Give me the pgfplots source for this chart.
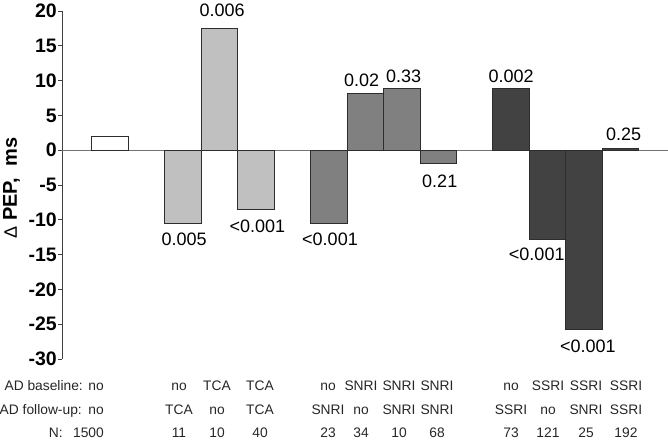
\documentclass[border=0pt]{standalone}
\usepackage{pgfplots}
\pgfplotsset{compat=1.18}
\usepackage{fontspec}
\setmainfont{Liberation Sans}
\definecolor{lgray}{RGB}{192,192,192}
\definecolor{mgray}{RGB}{128,128,128}
\definecolor{dgray}{RGB}{66,66,66}
\definecolor{edge}{RGB}{45,45,45}
\newcommand{\pv}{\fontsize{18}{20}\selectfont}
\newcommand{\bt}{\fontsize{13.8}{15}\selectfont}
\begin{document}
\begin{tikzpicture}[x=1pt,y=1pt]
\path[use as bounding box] (-62,-81) rectangle (606,359);
\begin{axis}[at={(0,0)}, anchor=south west, scale only axis,
  width=606pt, height=348pt,
  xmin=-1.32, xmax=15.3, ymin=-30, ymax=20,
  axis y line=left, axis x line=none,
  axis line style={-, draw=black!75, line width=0.8pt},
  xtick=\empty,
  ytick={-30,-25,...,20},
  yticklabels={-30,-25,-20,-15,-10,-5,0,5,10,15,20},
  tick align=outside, major tick length=4pt,
  ytick style={draw=black!75, line width=0.8pt},
  yticklabel style={font=\bfseries\fontsize{19.5}{21}\selectfont, inner sep=1pt},
  clip=false,
  every axis plot/.append style={ybar, bar width=36.46pt, bar shift=0pt, draw=edge, line width=1pt},
]
\draw[black!55, line width=0.9pt] (axis cs:-1.32,0) -- (axis cs:15.3,0);
\addplot[fill=white] coordinates {(0,1.9)};
\addplot[fill=lgray] coordinates {(2,-10.6) (3,17.5) (4,-8.5)};
\addplot[fill=mgray] coordinates {(6,-10.6) (7,8.2) (8,8.8) (9,-1.9)};
\addplot[fill=dgray] coordinates {(11,8.8) (12,-12.9) (13,-25.7) (14,0.2)};
\node[font=\pv] at (axis cs:2.03,-12.8) {0.005};
\node[font=\pv] at (axis cs:3.07,20.1) {0.006};
\node[font=\pv] at (axis cs:4.04,-10.9) {<0.001};
\node[font=\pv] at (axis cs:6.03,-12.8) {<0.001};
\node[font=\pv] at (axis cs:6.9,10.06) {0.02};
\node[font=\pv] at (axis cs:8.05,10.6) {0.33};
\node[font=\pv] at (axis cs:9.04,-4.45) {0.21};
\node[font=\pv] at (axis cs:11.0,10.6) {0.002};
\node[font=\pv] at (axis cs:11.7,-14.9) {<0.001};
\node[font=\pv] at (axis cs:13.1,-28.2) {<0.001};
\node[font=\pv] at (axis cs:14.08,2.3) {0.25};
\end{axis}
\node[rotate=90, font=\fontsize{20}{22}\selectfont, inner sep=0pt] at (-50.5,171) {{\fontsize{18}{20}\selectfont Δ} \textbf{PEP,\ \ ms}};
\begin{scope}[every node/.style={font=\bt, text=black!85, inner sep=0pt}]
\node[anchor=base east] at (21,-31) {AD baseline:};
\node[anchor=base east] at (42,-31) {no};
\node[anchor=base east] at (20,-55) {AD follow-up:};
\node[anchor=base east] at (42,-55) {no};
\node[anchor=base east] at (1,-78) {N:};
\node[anchor=base east] at (42,-78) {1500};
\foreach \x/\a/\b/\n in {117/no/TCA/11, 155/TCA/no/10, 198/TCA/TCA/40,
  266/no/SNRI/23, 299/SNRI/no/34, 337/SNRI/SNRI/10, 375/SNRI/SNRI/68,
  449/no/SSRI/73, 486/SSRI/no/121, 524/SSRI/SNRI/25, 564/SSRI/SSRI/192}{
  \node[anchor=base] at (\x,-31) {\a};
  \node[anchor=base] at (\x,-55) {\b};
  \node[anchor=base] at (\x,-78) {\n};
}
\end{scope}
\end{tikzpicture}
\end{document}
